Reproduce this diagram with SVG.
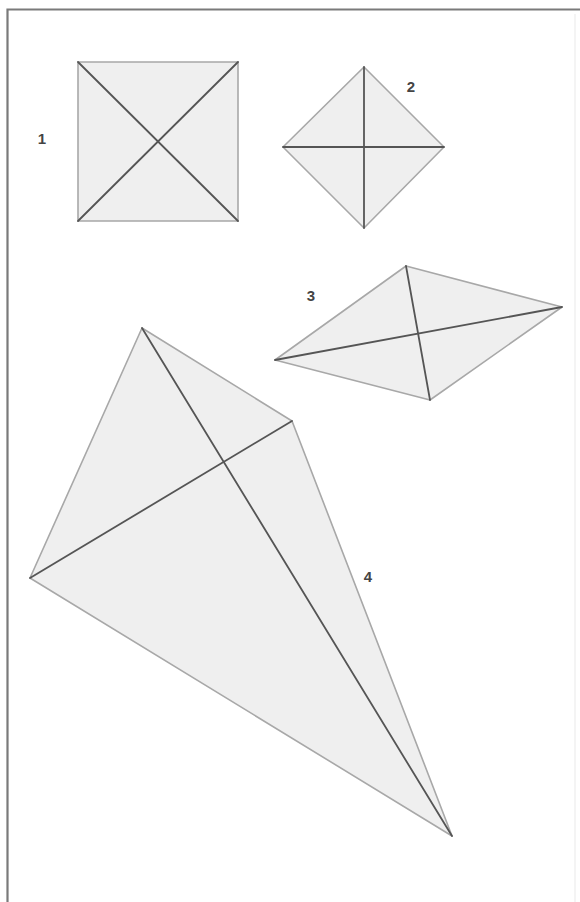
<svg xmlns="http://www.w3.org/2000/svg" width="580" height="902" viewBox="0 0 580 902">
<style>
.shape{fill:#efefef;stroke:#a8a8a8;stroke-width:1.6;stroke-linejoin:round}
.diag{stroke:#555;stroke-width:1.8;stroke-linecap:round}
.lbl{font-family:"Liberation Sans",Arial,sans-serif;font-size:15px;font-weight:bold;fill:#444}
</style>
<rect width="580" height="902" fill="#fff"/>
<g id="frame">
<path d="M7.5 902 V9.5 H580" fill="none" stroke="#7a7a7a" stroke-width="2.2"/>
<line x1="575" y1="14" x2="575" y2="902" stroke="#f0f0f0" stroke-width="1.5"/>
</g>
<g id="shape1">
<polygon class="shape" points="78,62 238,62 238,221 78,221"/>
<line class="diag" x1="78" y1="62" x2="238" y2="221"/>
<line class="diag" x1="238" y1="62" x2="78" y2="221"/>
<text class="lbl" x="42" y="144" text-anchor="middle">1</text>
</g>
<g id="shape2">
<polygon class="shape" points="364,67 444,147 364,228 283,147"/>
<line class="diag" x1="364" y1="67" x2="364" y2="228"/>
<line class="diag" x1="283" y1="147" x2="444" y2="147"/>
<text class="lbl" x="411" y="92" text-anchor="middle">2</text>
</g>
<g id="shape3">
<polygon class="shape" points="406,266 562,307 430,400 275,360"/>
<line class="diag" x1="406" y1="266" x2="430" y2="400"/>
<line class="diag" x1="275" y1="360" x2="562" y2="307"/>
<text class="lbl" x="311" y="301" text-anchor="middle">3</text>
</g>
<g id="shape4">
<polygon class="shape" points="142,328 292,421 452,836 30,578"/>
<line class="diag" x1="142" y1="328" x2="452" y2="836"/>
<line class="diag" x1="30" y1="578" x2="292" y2="421"/>
<text class="lbl" x="368" y="582" text-anchor="middle">4</text>
</g>
</svg>
